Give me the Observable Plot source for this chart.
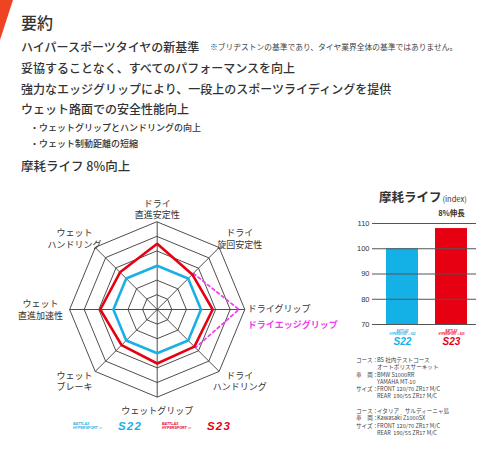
<!DOCTYPE html>
<html><head><meta charset="utf-8">
<script src="https://cdn.jsdelivr.net/npm/d3@7"></script>
<script src="https://cdn.jsdelivr.net/npm/@observablehq/plot@0.6"></script>
<style>
html,body{margin:0;padding:0;background:#fff}
body{width:500px;height:461px;position:relative;overflow:hidden;font-family:"Noto Sans CJK JP","Noto Sans",sans-serif;color:#333}
.abs{position:absolute;white-space:nowrap;line-height:1}
#corner{position:absolute;left:0;top:0;width:13px;height:40px;background:#ee4423;clip-path:polygon(0 0,100% 0,0 100%)}
.h{font-size:12px;font-weight:500;color:#333}
.note{font-size:7.75px;color:#444}
.bul{font-size:9px;color:#333;font-weight:500}
#radar{position:absolute;left:0;top:185px}
#bars{position:absolute;left:340px;top:185px}
#notes{position:absolute;left:356px;top:357px;font-size:5.6px;line-height:7.3px;color:#444;white-space:nowrap}
#notes .k{display:inline-block;width:21px}
.logo{position:absolute;white-space:nowrap;font-family:"Liberation Sans",Arial,sans-serif}
.logo .small{position:absolute;left:0;top:0;font-size:3.6px;font-weight:bold;font-style:italic;line-height:3.8px}
.logo .big{position:absolute;top:-2px;font-size:11.5px;font-weight:bold;font-style:italic;letter-spacing:1.2px;line-height:1}
</style></head><body>
<div id="corner"></div>
<div class="abs" style="left:21px;top:14px;font-size:16px;font-weight:500;color:#333">要約</div>
<div class="abs h" style="left:21px;top:40.5px">ハイパースポーツタイヤの新基準</div>
<div class="abs note" style="left:210px;top:43px">※ブリヂストンの基準であり、タイヤ業界全体の基準ではありません。</div>
<div class="abs h" style="left:21px;top:61.5px">妥協することなく、すべてのパフォーマンスを向上</div>
<div class="abs h" style="left:21px;top:83px">強力なエッジグリップにより、一段上のスポーツライディングを提供</div>
<div class="abs h" style="left:21px;top:103px">ウェット路面での安全性能向上</div>
<div class="abs bul" style="left:30px;top:122.5px">・ウェットグリップとハンドリングの向上</div>
<div class="abs bul" style="left:30px;top:138.5px">・ウェット制動距離の短縮</div>
<div class="abs h" style="left:21px;top:159.5px;font-size:12.5px">摩耗ライフ 8%向上</div>

<div id="radar"></div>
<div id="bars"></div>
<div class="abs" style="left:379px;top:191px;font-size:12.5px;font-weight:bold;color:#333">摩耗ライフ<span style="font-size:7.5px;font-weight:normal;margin-left:1px">(index)</span></div>

<div class="logo" id="lg22" style="left:73px;top:423px;color:#1ab0e6"></div>
<div class="logo" id="lg23" style="left:162px;top:423px;color:#e60012"></div>

<div id="notes"></div>

<script>
// ---- Radar data ----
const radarAxes = ["ドライ\n直進安定性","ドライ\n旋回安定性","ドライグリップ","ドライ\nハンドリング","ウェットグリップ","ウェット\nブレーキ","ウェット\n直進加速性","ウェット\nハンドリング"];
const s22Scores = [3, 3, 3, 3, 3, 3, 3, 3];
const s23Scores = [4.5, 3.4, 3.8, 3.6, 3.7, 3.45, 3.9, 3.6];
const edgeGripAxes = [1, 2, 3];
const edgeGripScores = [3.5, 5.6, 3.7];
const edgeGripLabel = "ドライエッジグリップ";
const radarLevels = [1, 2, 3, 4, 5, 6];
const models = ["S22", "S23"];
const modelColors = ["#1ab0e6", "#e60012"];

// ---- Wear life data ----
const wearIndex = [100, 108];
const wearTicks = [70, 80, 90, 100, 110];
const wearNote = "8%伸長";

// ---- Test notes ----
const notesLines = [
  ["コース：", "BS 社内テストコース"],
  ["", "オートポリスサーキット"],
  ["車　両：", "BMW S1000RR"],
  ["", "YAMAHA MT-10"],
  ["サイズ：", "FRONT 120/70 ZR17 M/C"],
  ["", "REAR  190/55 ZR17 M/C"],
  ["", ""],
  ["コース：", "イタリア　サルディーニャ島"],
  ["車　両：", "Kawasaki Z1000SX"],
  ["サイズ：", "FRONT 120/70 ZR17 M/C"],
  ["", "REAR  190/55 ZR17 M/C"]
];

// ---------- Radar ----------
const U = 14.6, RW = 340, RH = 240, CX = 156.7, CY = 124;
const pt = (i, r) => ({x: r * Math.sin(i * Math.PI / 4), y: r * Math.cos(i * Math.PI / 4)});
const ringData = radarLevels.flatMap(l => radarAxes.map((a, i) => ({level: l, ...pt(i, l)})));
const spokeData = radarAxes.map((a, i) => ({x0: 0, y0: 0, ...pt(i, 6)}));
const seriesData = [
  ...s22Scores.map((v, i) => ({model: models[0], ...pt(i, v)})),
  ...s23Scores.map((v, i) => ({model: models[1], ...pt(i, v)}))
];
const edgeData = edgeGripAxes.map((a, k) => pt(a, edgeGripScores[k]));
const RX = 8.0, RY = 6.9;
const labelData = radarAxes.map((t, i) => {
  const a = i * Math.PI / 4;
  return {text: t, i, x: RX * Math.sin(a), y: RY * Math.cos(a)};
});
const midLabels = labelData.filter(d => d.i !== 2);
const sideLabels = labelData.filter(d => d.i === 2).map(d => ({...d, x: 6.2, y: 0}));

const radar = Plot.plot({
  width: RW, height: RH, margin: 0,
  style: {fontFamily: '"Noto Sans CJK JP", sans-serif', fontSize: "9px", color: "#333", background: "transparent", overflow: "visible"},
  x: {domain: [-CX / U, (RW - CX) / U], axis: null},
  y: {domain: [-(RH - CY) / U, CY / U], axis: null},
  color: {domain: models, range: modelColors},
  marks: [
    Plot.line(ringData, {x: "x", y: "y", z: "level", curve: "linear-closed", stroke: "#3a3a3a", strokeWidth: 0.9}),
    Plot.link(spokeData, {x1: "x0", y1: "y0", x2: "x", y2: "y", stroke: "#3a3a3a", strokeWidth: 0.9}),
    Plot.line(edgeData, {x: "x", y: "y", stroke: "#f03cf0", strokeWidth: 1.7, strokeDasharray: "3,3"}),
    Plot.line(seriesData, {x: "x", y: "y", z: "model", stroke: "model", curve: "linear-closed", strokeWidth: 2.6, strokeLinejoin: "miter"}),
    Plot.text(midLabels, {x: "x", y: "y", text: "text", fill: "#333", fontSize: 9, lineHeight: 1.3, textAnchor: "middle"}),
    Plot.text(sideLabels, {x: "x", y: "y", text: "text", fill: "#333", fontSize: 9, textAnchor: "start"}),
    Plot.text(sideLabels, {x: "x", y: "y", text: () => edgeGripLabel, fill: "#f03cf0", fontSize: 9, fontWeight: "bold", textAnchor: "start", dy: 15.5})
  ]
});
document.getElementById("radar").append(radar);

// ---------- Bars ----------
const wearData = models.map((m, i) => ({model: m, value: wearIndex[i], base: wearTicks[0]}));
const bars = Plot.plot({
  width: 160, height: 165, marginTop: 38, marginBottom: 26, marginLeft: 32, marginRight: 24,
  style: {fontFamily: '"Liberation Sans", Arial, sans-serif', color: "#333", background: "transparent", overflow: "visible"},
  x: {domain: models, paddingInner: 0.35, paddingOuter: 0.23, align: 0.6, axis: null},
  y: {domain: [wearTicks[0], wearTicks[wearTicks.length - 1]], axis: null},
  color: {domain: models, range: ["#14b1e7", "#e60012"]},
  marks: [
    Plot.barY(wearData, {x: "model", y1: "base", y2: "value", fill: "model"}),
    Plot.ruleY(wearTicks, {stroke: "#555", strokeWidth: 1}),
    Plot.axisY(wearTicks, {tickSize: 0, tickPadding: 3, label: null, fontSize: 7.5, fill: "#333"}),
    Plot.text(wearData.filter(d => d.model === "S23"), {x: "model", y: () => wearTicks[wearTicks.length - 1], text: () => wearNote, dy: -10, fontSize: 7.5, fontWeight: "bold", fill: "#333", fontFamily: '"Noto Sans CJK JP", sans-serif'}),
    Plot.text(wearData, {x: "model", y: "base", text: () => "BATTLAX", dy: 6.8, fontSize: 2.6, fontWeight: "bold", fontStyle: "italic", fill: "model"}),
    Plot.text(wearData, {x: "model", y: "base", text: d => "HYPERSPORT ⊂ " + d.model, dy: 9.4, fontSize: 2.6, fontWeight: "bold", fontStyle: "italic", fill: "model"}),
    Plot.text(wearData, {x: "model", y: "base", text: "model", dy: 17.2, fontSize: 10, fontWeight: "bold", fontStyle: "italic", fill: "model", letterSpacing: 1.6})
  ]
});
document.getElementById("bars").append(bars);

// ---------- Legend logos ----------
models.forEach((m, i) => {
  const el = document.getElementById("lg" + m.slice(1));
  el.innerHTML = `<div class="small">BATTLAX<br>HYPERSPORT ⊂</div><div class="big" style="left:45px">${m}</div>`;
});

// ---------- Notes ----------
document.getElementById("notes").innerHTML = notesLines.map(([k, v]) =>
  `<div><span class="k">${k}</span>${v.replace(/  /g, "&nbsp;&nbsp;") || "&nbsp;"}</div>`).join("");
</script>
</body></html>
